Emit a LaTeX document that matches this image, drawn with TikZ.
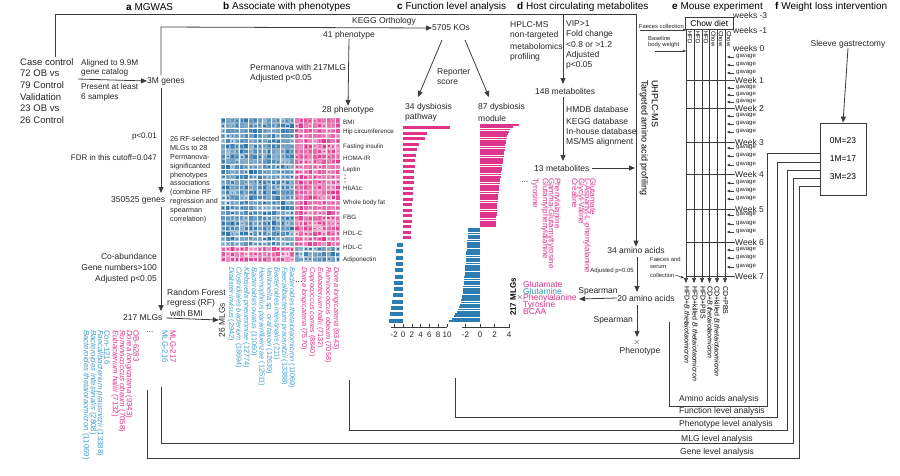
\documentclass[tikz,border=0pt]{standalone}
\usepackage{fontspec}
\setmainfont{Liberation Sans}
\usetikzlibrary{arrows.meta}
\definecolor{pk}{RGB}{222,52,140}
\definecolor{bl}{RGB}{44,126,178}
\definecolor{hb}{RGB}{40,110,165}
\definecolor{lb}{RGB}{64,158,204}
\definecolor{tl}{RGB}{50,150,175}
\definecolor{lc}{RGB}{60,60,60}
\newcommand{\fsz}[1]{\fontsize{#1}{#1}\selectfont}
\begin{document}
\begin{tikzpicture}[x=1pt,y=-1pt,
  ln/.style={draw=lc,line width=0.8pt},
  ar/.style={ln,-{Triangle[length=6pt,width=5pt]}},
  sar/.style={draw=lc,line width=0.5pt,-{Triangle[length=3pt,width=2.5pt]}},
  tx/.style={inner sep=0pt,text=black!85,font=\fsz{8.5}},
  hd/.style={inner sep=0pt,anchor=west,font=\fsz{10}},
  rl/.style={inner sep=0pt,rotate=-90,anchor=west},
  ru/.style={inner sep=0pt,rotate=90}
]
\useasboundingbox (0,0) rectangle (900,475);
\fill[white] (0,0) rectangle (900,475);

% ---------- titles
\node[hd] (ta) at (126,7) {\textbf{a} MGWAS};
\node[hd] (tb) at (223,7) {\textbf{b} Associate with phenotypes};
\node[hd] (tc) at (397,7) {\textbf{c} Function level analysis};
\node[hd] (td) at (517,7) {\textbf{d} Host circulating metabolites};
\node[hd] (te) at (672,7) {\textbf{e} Mouse experiment};
\node[hd] (tf) at (775,7) {\textbf{f} Weight loss intervention};

% ---------- panel a
\node[tx,anchor=north west,align=left,font=\fontsize{9.5}{11.7}\selectfont] (cc) at (20,58)
 {Case control\\72 OB vs\\79 Control\\Validation\\23 OB vs\\26 Control};
\coordinate (topL) at (55,14);
\coordinate (topR) at (636,14);
\draw[ln] (55,57) -- (topL) -- (topR);
\node[tx,anchor=west] (g3m) at (147,81) {3M genes};
\draw[ar] (78,79) -- (g3m.west);
\node[tx,anchor=west,font=\fsz{8.2}] at (81,63) {Aligned to 9.9M};
\node[tx,anchor=west,font=\fsz{8.2}] at (81,72) {gene catalog};
\node[tx,anchor=west,font=\fsz{8.2}] at (81,87) {Present at least};
\node[tx,anchor=west,font=\fsz{8.2}] at (81,97) {6 samples};
\node[tx,anchor=west] (g350) at (111,200) {350525 genes};
\draw[ar] (161,88) -- (161,193);
\node[tx,anchor=east,font=\fsz{8}] at (157,137) {p<0.01};
\node[tx,anchor=east,font=\fsz{8}] at (157,158) {FDR in this cutoff=0.047};
\node[tx,anchor=west] (m217) at (123,318) {217 MLGs};
\draw[ar] (161,207) -- (161,311);
\node[tx,anchor=east] at (157,256) {Co-abundance};
\node[tx,anchor=east] at (157,267) {Gene numbers>100};
\node[tx,anchor=east] at (157,279) {Adjusted p<0.05};
\node[rl,text=pk,font=\fsz{7.8}] at (173,330) {MLG-217};
\node[rl,text=lb,font=\fsz{7.8}] at (165,330) {MLG-216};
\node[tx,font=\fsz{8}] at (150,332) {...};
\foreach \x/\t in {136/OB-6283,129/\textit{Dorea longicatena} (9343),122/\textit{Ruminococcus obeum} (7058),115/\textit{Eubacterium hallii} (7132)}
  \node[rl,text=pk,font=\fsz{7.8}] at (\x,330) {\t};
\foreach \x/\t in {107/Con-1216,100/\textit{Faecalibacterium prausnitzii} (13388),93/\textit{Bacteroides intestinalis} (2808),86/\textit{Bacteroides thetaiotaomicron} (11069)}
  \node[rl,text=lb,font=\fsz{7.8}] at (\x,330) {\t};

% ---------- panel b
\node[ru,font=\fsz{8.4},text=black!85] (m26) at (222,320) {26 MLGs};
\draw[ar] (166,318) -- (m26.north);
\node[tx,anchor=west] at (167,292) {Random Forest};
\node[tx,anchor=west] at (167,303) {regress (RF)};
\node[tx,anchor=west] at (170,313) {with BMI};
\node[tx] (p41) at (349,35) {41 phenotype};
\node[tx] (p28) at (348,110) {28 phenotype};
\draw[ar] (p41.south) -- (p28.north);
\node[tx,anchor=west] at (250,67) {Permanova with 217MLG};
\node[tx,anchor=west] at (250,78) {Adjusted p<0.05};
\node[tx,anchor=north west,align=left,font=\fontsize{7.2}{8.9}\selectfont] at (170,136)
 {26 RF-selected\\MLGs to 28\\Permanova-\\significanted\\phenotypes\\associations\\(combine RF\\regression and\\spearman\\correlation)};
% heatmap
\pgfmathsetseed{11}
\foreach \r in {0,...,27}{
  \foreach \c in {0,...,25}{
    \pgfmathtruncatemacro{\ispk}{ifthenelse(\r>24,\c<16,\c>15)}
    \pgfmathtruncatemacro{\bg}{25+30*rnd+(\r<25)*15*(1-\r/25)}
    \pgfmathtruncatemacro{\fg}{60+40*rnd}
    \pgfmathsetmacro{\sz}{1.6+2.3*rnd}
    \ifnum\ispk=1 \def\hc{pk}\else\def\hc{hb}\fi
    \fill[\hc!\bg!white] (221.3+\c*4.58,118.3+\r*5.14) rectangle ++(4.1,4.6);
    \fill[\hc!\fg!white] (221.3+\c*4.58+2.05-\sz/2,118.3+\r*5.14+2.3-\sz/2) rectangle ++(\sz,\sz);
  }
}
\foreach \y/\t in {122/BMI,132/Hip circumference,147/Fasting insulin,158/HOMA-IR,170/Leptin,188/HbA1c,203/Whole body fat,217/FBG,233/HDL-C,247/HDL-C,260/Adiponectin}
  \node[tx,anchor=west,font=\fsz{6.3}] at (343,\y) {\t};
\foreach \y in {175,178.5,182} \fill[black!80] (345,\y) circle (0.55);
\foreach \x/\t/\n in {231/Dialister invisus/2942,238.6/Clostridiales bacterium/18694,246.2/Klebsiella pneumoniae/12774,253.8/Bacteroides ovatus/11060,261.4/Haemophilus parainfluenzae/12511,269/Veillonella sp. oral taxon/12639,276.6/Bacteroides intestinalis/211,284.2/Faecalibacterium prausnitzii/13388,291.8/Bacteroides thetaiotaomicron/11069}
  \node[rl,text=lb,font=\fsz{7.3}] at (\x,267) {\textit{\t} (\n)};
\foreach \x/\t/\n in {304/Dorea longicatena/7570,312/Coprococcus comes/8840,320/Eubacterium hallii/7132,328/Ruminococcus obeum/7058,336/Dorea longicatena/9343}
  \node[rl,text=pk,font=\fsz{7.3}] at (\x,267) {\textit{\t} (\n)};
\draw[lc,dotted,line width=0.6pt] (295.5,281) -- (302,281);

% ---------- panel c
\node[tx,anchor=west] (ko) at (432,28) {5705 KOs};
\draw[ar] (161,75) -- (161,27) -- (ko.west);
\node[tx] at (384,21) {KEGG Orthology};
\node[tx,anchor=west] (pw) at (405,107) {34 dysbiosis};
\node[tx,anchor=west] at (405,117) {pathway};
\node[tx,anchor=west] (md) at (478,107) {87 dysbiosis};
\node[tx,anchor=west] at (478,118) {module};
\draw[ar] (442,40) -- (418,97);
\draw[ar] (465,40) -- (489,97);
\node[tx,anchor=west] at (437,72) {Reporter};
\node[tx,anchor=west] at (437,82) {score};
% bars pathway
\foreach \L [count=\i from 0] in {10.7,5.4,5.0,3.6,3.2,3.0,2.8,2.7,2.6,2.5,2.4,2.3,2.3,2.2,2.1,2.1,2.0,2.0,1.9,1.9,1.8}
  \fill[pk] (403,126+\i*5.5) rectangle ++(\L*4.4,3.4);
\foreach \L [count=\i from 0] in {1.4,1.5,1.6,1.7,1.8,1.9,2.0,2.1,2.2,2.4,2.8,3.0,3.2}
  \fill[bl] (403,243+\i*6.3) rectangle ++(-\L*4.4,4);
\draw[lc,line width=0.6pt] (391,327) -- (447,327);
\foreach \k in {-2,0,2,4,6,8,10}{
  \draw[lc,line width=0.6pt] (403+\k*4.4,327) -- ++(0,-3);
  \node[tx,font=\fsz{8}] at (403+\k*4.4,335) {\k};
}
% bars module
\foreach \i in {0,...,45}{
  \pgfmathsetmacro{\L}{2.2+1.8*(1-\i/45)^1.5+1.3*exp(-\i/1.2)}
  \fill[pk] (480,124+\i*2.25) rectangle ++(\L*7.3,1.75);
}
\foreach \i in {0,...,40}{
  \pgfmathsetmacro{\L}{1.6+1.0*\i/40+1.6*(\i/40)^8}
  \fill[bl] (480,228+\i*2.3) rectangle ++(-\L*7.3,1.85);
}
\draw[lc,line width=0.6pt] (462,327) -- (510,327);
\foreach \k in {-2,0,2,4}{
  \draw[lc,line width=0.6pt] (480+\k*7.3,327) -- ++(0,-3);
  \node[tx,font=\fsz{8}] at (480+\k*7.3,335) {\k};
}

% ---------- panel d
\foreach \y/\t in {25/HPLC-MS,35/non-targeted,46/metabolomics,57/profiling}
  \node[tx,anchor=west] at (510,\y) {\t};
\foreach \y/\t in {24/VIP>1,34.5/Fold change,44.5/<0.8 or >1.2,55/Adjusted,65/p<0.05}
  \node[tx,anchor=west] at (566,\y) {\t};
\node[tx,anchor=west] (m148) at (535,91) {148 metabolites};
\draw[ar] (563,14) -- (563,84);
\foreach \y/\t in {109/{HMDB database},121/{KEGG database},131.5/{In-house database},142/{MS/MS alignment}}
  \node[tx,anchor=west] at (566,\y) {\t};
\node[tx,anchor=west] (m13) at (534,168) {13 metabolites};
\draw[ar] (563,97) -- (563,161);
\draw[ar] (m13.east) ++(2,0) -- (635,168);
\foreach \x/\t in {593/Glutamate,587/L-Aspartyl-L-phenylalanine,581/Glycyl-Valine,575/Creatine,557/Phenylalanine,551/Gamma-Glutamyltyrosine,545/Glutamylphenylalanine,535/Tyrosine}
  \node[rl,text=pk,font=\fsz{8}] at (\x,178) {\t};
\node[tx,font=\fsz{8}] at (525,182) {...};
\node[rl,font=\fsz{9}] at (655,80) {UHPLC-MS};
\node[rl,font=\fsz{9}] at (644,80) {Targeted amino acid profiling};
\node[tx] (aa34) at (636,250) {34 amino acids};
\draw[ar] (topR) -- (aa34.north);
\node[tx,anchor=east,font=\fsz{6}] at (634,271) {Adjusted p=0.05};
\node[tx] (aa20) at (646,298) {20 amino acids};
\draw[ar] (637,257) -- (637,292);
\node[tx,anchor=west,text=pk] at (523,284) {Glutamate};
\node[tx,anchor=west,text=tl] at (523,291) {Glutamine};
\node[tx,anchor=west,text=pk] (phe) at (523,298) {Phenylalanine};
\node[tx,anchor=west,text=pk] at (523,305) {Tyrosine};
\node[tx,anchor=west,text=pk] at (523,312) {BCAA};
\node[ru,font=\bfseries\fsz{8}] at (513,297) {217 MLGs};
\node[tx,font=\fsz{8}] at (520,297) {$\times$};
\draw[ar] (aa20.west) -- (579,299);
\node[tx] at (598,291) {Spearman};
\node[tx,anchor=east] at (633,320) {Spearman};
\node[tx,font=\fsz{8}] (xx) at (637,342) {$\times$};
\node[tx] (phen) at (640,351) {Phenotype};
\draw[ar] (637,305) -- (637,337);

% ---------- panel e
\node[draw=lc,line width=0.6pt,minimum width=48pt,minimum height=12pt,inner sep=0pt,anchor=north west,font=\fsz{8.5}] (chow) at (685,17) {Chow diet};
\foreach \x in {686,694,702,709.5,717,725}
  \draw[draw=lc,line width=0.6pt,-{Triangle[length=5pt,width=4pt]}] (\x,29) -- (\x,283);
\foreach \x/\t in {690/HFD,698/HFD,706/HFD,713.5/Chow,721/Chow,729/Chow}
  \node[rl,font=\fsz{6}] at (\x,31) {\t};
\foreach \y/\t in {15/weeks -3,30/weeks -1,48/weeks 0}
  \node[tx,anchor=west] at (733,\y) {\t};
\foreach \y/\t in {80/1,108/2,142/3,174/4,209/5,242/6,276/7}{
  \draw[lc,line width=0.6pt] (686,\y) -- (735,\y);
  \node[tx,anchor=west] at (735,\y) {Week \t};
}
\foreach \y in {57,65,73,88,95,102,116,124,132,148,156,165,183,191,199,215,224,232,250,258,267}{
  \draw[sar] (734,\y) -- (727,\y);
  \node[tx,anchor=west,font=\fsz{6}] at (736,\y) {gavage};
}
\node[tx,anchor=east,font=\fsz{5.8}] at (684,26) {Faeces collection};
\draw[sar] (640,30) -- (686,30);
\node[tx,anchor=west,font=\fsz{5.8}] at (648,38) {Baseline};
\node[tx,anchor=west,font=\fsz{5.8}] at (648,45) {body weight};
\draw[sar] (655,51) -- (686,51);
\node[tx,anchor=west,font=\fsz{5.8}] at (650,259) {Faeces and};
\node[tx,anchor=west,font=\fsz{5.8}] at (650,267) {serum};
\node[tx,anchor=west,font=\fsz{5.8}] at (650,275) {collection};
\draw[sar] (675,275) -- (684,278);
\foreach \x/\t in {687/HFD+\textit{B.thetaiotaomicron},695/HFD+killed \textit{B.thetaiotaomicron},703/HFD+PBS,710/CD+\textit{B.thetaiotaomicron},717/CD+killed \textit{B.thetaiotaomicron},725.5/CD+PBS}
  \node[rl,font=\fsz{7}] at (\x,286) {\t};

% ---------- panel f
\node[tx] (sg) at (848,44) {Sleeve gastrectomy};
\node[draw=lc,line width=0.8pt,minimum width=46pt,minimum height=72pt,inner sep=0pt,align=center,font=\fontsize{8.5}{18}\selectfont] (box) at (843,159) {0M=23\\1M=17\\3M=23};
\draw[ar] (sg.south) -- (box.north);

% ---------- bottom analysis brackets
\draw[ln] (147,390) -- (147,458) -- (799,458) -- (799,186) -- (box.west |- 0,186);
\draw[ln] (161,387) -- (161,443) -- (793,443) -- (793,178) -- (box.west |- 0,178);
\draw[ln] (349,380) -- (349,430) -- (787,430) -- (787,170) -- (box.west |- 0,170);
\draw[ln] (455,378) -- (455,417) -- (777,417) -- (777,162) -- (box.west |- 0,162);
\draw[ln] (669,322) -- (669,406) -- (767,406) -- (767,153) -- (box.west |- 0,153);
\node[tx,anchor=west] at (679,399) {Amino acids analysis};
\node[tx,anchor=west] at (679,411) {Function level analysis};
\node[tx,anchor=west] at (679,424) {Phenotype level analysis};
\node[tx,anchor=west] at (681,439) {MLG level analysis};
\node[tx,anchor=west] at (680,452) {Gene level analysis};
\end{tikzpicture}
\end{document}
